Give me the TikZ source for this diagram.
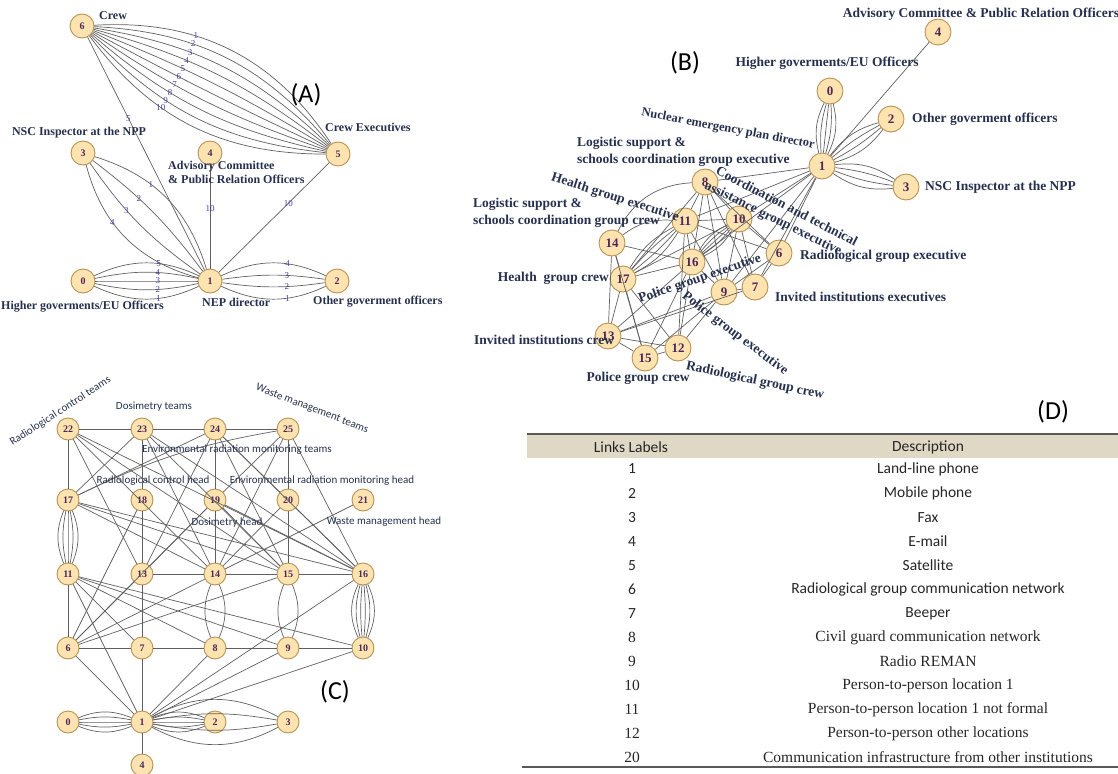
\documentclass[tikz,border=0pt]{standalone}
\usepackage{fontspec}
\setmainfont{Liberation Serif}
\newfontfamily\calfont{Carlito}
\usetikzlibrary{positioning}

\definecolor{vfill}{RGB}{252,227,175}
\definecolor{vline}{RGB}{184,146,86}
\definecolor{vtext}{RGB}{78,40,88}
\definecolor{labnavy}{RGB}{38,48,78}
\definecolor{lnkblue}{RGB}{72,62,168}
\definecolor{edgegray}{RGB}{96,96,96}
\definecolor{headfill}{RGB}{222,216,197}

\tikzset{
  vtx/.style={circle, draw=vline, fill=vfill, line width=0.9pt, inner sep=0pt, text=vtext},
  avtx/.style={vtx, minimum size=24pt, font=\bfseries\fontsize{10}{10}\selectfont},
  bvtx/.style={vtx, minimum size=26pt, font=\bfseries\fontsize{13}{13}\selectfont},
  cvtx/.style={vtx, minimum size=22pt, font=\bfseries\fontsize{10}{10}\selectfont},
  lnk/.style={draw=edgegray, line width=0.7pt},
  lnklab/.style={text=lnkblue, inner sep=0.5pt, font=\fontsize{9}{9}\selectfont},
  alab/.style={text=labnavy, inner sep=0pt, font=\bfseries\fontsize{12}{14}\selectfont},
  blab/.style={text=labnavy, inner sep=0pt, font=\bfseries\fontsize{13.5}{17}\selectfont},
  clab/.style={text=labnavy, inner sep=0pt, font=\calfont\fontsize{11}{13}\selectfont},
  panel/.style={inner sep=0pt, font=\calfont\fontsize{26}{26}\selectfont},
  tcal/.style={inner sep=0pt, text=black!85, font=\calfont\fontsize{15.5}{16}\selectfont},
  tser/.style={inner sep=0pt, text=black!85, font=\fontsize{15.5}{16}\selectfont}
}

\begin{document}
\begin{tikzpicture}[x=1pt, y=-1pt]
\useasboundingbox (0,0) rectangle (1118,773);

% (A)
\node[avtx] (a6) at (82,26) {6};
\node[avtx] (a5) at (338,154) {5};
\node[avtx] (a3) at (83,153) {3};
\node[avtx] (a4) at (210,153) {4};
\node[avtx] (a0) at (83,281) {0};
\node[avtx] (a1) at (210,281) {1};
\node[avtx] (a2) at (337,281) {2};

\foreach \k in {1,...,10}{
  \pgfmathsetmacro{\bb}{30-6.3*(\k-1)}
  \draw[lnk] (a6) to[bend left=\bb] node[lnklab, pos=0.36] {\k} (a5);
}
\draw[lnk] (a6) -- node[lnklab, pos=0.35] {5} (a1);
\foreach \k/\bb in {1/28, 2/8, 3/-10, 4/-30}
  \draw[lnk] (a3) to[bend left=\bb] node[lnklab, pos=0.37] {\k} (a1);
\draw[lnk] (a4) -- node[lnklab, pos=0.42] {10} (a1);
\draw[lnk] (a5) -- node[lnklab, pos=0.37] {10} (a1);
\foreach \k/\bb in {5/25, 4/12, 3/0, 2/-12, 1/-25}
  \draw[lnk] (a0) to[bend left=\bb] node[lnklab, pos=0.62] {\k} (a1);
\foreach \k/\bb in {4/25, 3/8, 2/-8, 1/-25}
  \draw[lnk] (a1) to[bend left=\bb] node[lnklab, pos=0.64] {\k} (a2);

\node[alab, anchor=west] (a6lab) at (99,16) {Crew};
\node[alab, anchor=west] (a5lab) at (325,127) {Crew Executives};
\node[alab] (a3lab) at (79,133) {NSC Inspector at the NPP};
\node[alab, anchor=north west, align=left] (a4lab) at (168,161) {Advisory Committee\\\& Public Relation Officers};
\node[alab, anchor=east] (a0lab) at (164,307) {Higher goverments/EU Officers};
\node[alab, anchor=west] (a1lab) at (202,302) {NEP director};
\node[alab, anchor=west] (a2lab) at (313,302) {Other goverment officers};
\node[panel] (apanel) at (306,95) {(A)};

% (B)
\foreach \n/\x/\y in {0/830/91, 1/822/166, 2/891/119, 3/906/187, 4/938/32, 6/779/253, 7/755/287, 8/705/182, 9/724/292, 10/739/219, 11/685/221, 12/678/348, 13/608/336, 14/612/243, 15/645/358, 16/692/262, 17/623/279}
  \node[bvtx] (b\n) at (\x,\y) {\n};

\foreach \bb in {-20,-10,0,10,20} \draw[lnk] (b1) to[bend left=\bb] (b0);
\foreach \bb in {-18,-6,6,18} \draw[lnk] (b1) to[bend left=\bb] (b2);
\foreach \bb in {-20,-7,7,20} \draw[lnk] (b1) to[bend left=\bb] (b3);
\foreach \bb in {-16,-8,0,8,16} \draw[lnk] (b10) to[bend left=\bb] (b16);
\foreach \bb in {-15,-5,5,15} \draw[lnk] (b17) to[bend left=\bb] (b11);
\foreach \u/\v in {1/4,1/8,1/11,1/10,1/16,1/6,1/7,1/9,8/11,8/10,8/16,8/6,8/9,8/7,8/17,11/10,11/16,11/9,11/12,11/6,10/17,10/6,10/9,10/7,14/17,14/16,14/13,14/15,17/16,17/13,17/15,17/12,16/13,16/15,16/12,16/9,13/15,13/12,13/9,13/7,15/12,15/9,12/9,6/9,6/7,9/7}
  \draw[lnk] (b\u) -- (b\v);
\draw[lnk] (b8) to[bend right=30] (b14);
\draw[lnk] (b14) to[bend left=20] (b11);

\node[blab] (b4lab) at (981,14) {Advisory Committee \& Public Relation Officers};
\node[blab] (b0lab) at (827,63) {Higher goverments/EU Officers};
\node[blab, anchor=west] (b2lab) at (912,119) {Other goverment officers};
\node[blab, anchor=west] (b3lab) at (925,187) {NSC Inspector at the NPP};
\node[blab, rotate=-10.6, font=\bfseries\fontsize{12.5}{15}\selectfont] (b1lab) at (728,129) {Nuclear emergency plan director};
\node[blab, anchor=north west, align=left] (b8lab) at (577,137) {Logistic support \&\\schools coordination group executive};
\node[blab, rotate=-17.7] (b11lab) at (615,198) {Health group executive};
\node[blab, rotate=-27.5] (b10lab) at (787,206) {Coordination and technical};
\node[blab, rotate=-26.4] (b10labb) at (773,219) {assistance group executive};
\node[blab, anchor=west] (b6lab) at (800,256) {Radiological group executive};
\node[blab, anchor=north west, align=left] (b14lab) at (473,198) {Logistic support \&\\ schools coordination group crew};
\node[blab, anchor=east] (b17lab) at (609,278) {Health\ \ group crew};
\node[blab, rotate=19] (b16lab) at (700,279) {Police group executive};
\node[blab, anchor=west] (b7lab) at (775,297) {Invited institutions executives};
\node[blab, rotate=-37] (b9lab) at (735,334) {Police group executive};
\node[blab, anchor=west] (b13lab) at (474,340) {Invited institutions crew};
\node[blab] (b15lab) at (638,378) {Police group crew};
\node[blab, rotate=-12] (b12lab) at (755,381) {Radiological group crew};
\node[panel] (bpanel) at (685,63) {(B)};

% (C)
\foreach \n/\x/\y in {22/68/429, 23/142/429, 24/215/429, 25/288/429, 17/68/500, 18/142/500, 19/215/500, 20/288/500, 21/363/500, 11/68/574, 13/142/574, 14/215/574, 15/288/574, 16/363/574, 6/68/648, 7/142/648, 8/215/648, 9/288/648, 10/363/648, 0/68/722, 1/142/722, 2/215/722, 3/288/722, 4/142/765}
  \node[cvtx] (c\n) at (\x,\y) {\n};

\foreach \u/\v in {22/23,23/24,24/25,22/17,23/18,18/13,24/19,19/14,25/20,20/15,22/13,22/14,22/15,22/16,23/17,23/14,23/15,23/16,24/17,24/13,24/15,24/16,24/20,25/19,25/14,25/16,21/14,17/14,17/15,17/16,18/6,19/13,19/15,19/16,20/14,20/16,13/14,14/15,15/16,11/6,11/7,11/8,11/9,11/10,11/1,13/7,13/6,14/6,15/6,16/1,6/7,7/8,8/9,9/10,6/1,7/1,8/1,9/1,10/1,1/4,6/19}
  \draw[lnk] (c\u) -- (c\v);
\draw[lnk] (c17) to[bend left=8] (c25);
\foreach \bb in {-22,-11,0,11,22} \draw[lnk] (c17) to[bend left=\bb] (c11);
\foreach \bb in {-25,-15,-5,5,15,25} \draw[lnk] (c16) to[bend left=\bb] (c10);
\foreach \bb in {-22,22} \draw[lnk] (c14) to[bend left=\bb] (c8);
\foreach \bb in {-22,22} \draw[lnk] (c15) to[bend left=\bb] (c9);
\foreach \bb in {-22,-11,0,11,22} \draw[lnk] (c0) to[bend left=\bb] (c1);
\foreach \bb in {-22,-11,0,11,22} \draw[lnk] (c1) to[bend left=\bb] (c2);
\foreach \bb in {-28,-10,10,28} \draw[lnk] (c1) to[bend left=\bb] (c3);

\node[clab, rotate=33, anchor=east] (c22lab) at (110,379) {Radiological control teams};
\node[clab] (c23lab) at (154,407) {Dosimetry teams};
\node[clab, rotate=-21] (c25lab) at (312,409) {Waste management teams};
\node[clab] (c24lab) at (237,450) {Environmental radiation monitoring teams};
\node[clab] (c18lab) at (153,481) {Radiological control head};
\node[clab] (c20lab) at (322,481) {Environmental radiation monitoring head};
\node[clab] (c19lab) at (227,523) {Dosimetry head};
\node[clab] (c21lab) at (384,522) {Waste management head};
\node[panel] (cpanel) at (335,692) {(C)};

% (D)
\fill[headfill] (527,435) rectangle (1118,458);
\draw[line width=2pt, black!65] (527,434) -- (1118,434);
\draw[line width=2pt, black!65] (522,767) -- (1118,767);
\node[tcal] (dhlab) at (631,447) {Links Labels};
\node[tcal] (dhdesc) at (928,447) {Description};
\foreach \rowlab/\rowtext [count=\i] in {1/Land-line phone, 2/Mobile phone, 3/Fax, 4/E-mail, 5/Satellite, 6/Radiological group communication network, 7/Beeper}{
  \node[tcal] (dn\i) at (632,{469+24.05*(\i-1)}) {\rowlab};
  \node[tcal] (dt\i) at (928,{469+24.05*(\i-1)}) {\rowtext};
}
\foreach \rowlab/\rowtext [count=\i from 8] in {8/Civil guard communication network, 9/Radio REMAN, 10/Person-to-person location 1, 11/Person-to-person location 1 not formal, 12/Person-to-person other locations, 20/Communication infrastructure from other institutions}{
  \node[tser] (dn\i) at (632,{469+24.05*(\i-1)}) {\rowlab};
  \node[tser] (dt\i) at (928,{469+24.05*(\i-1)}) {\rowtext};
}
\node[panel] (dpanel) at (1053,412) {(D)};
\end{tikzpicture}
\end{document}
